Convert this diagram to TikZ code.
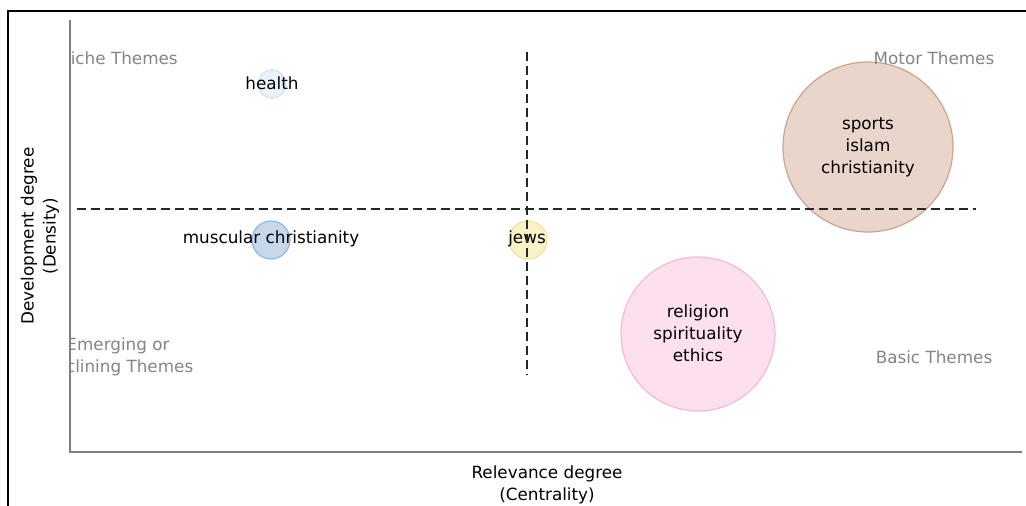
\documentclass[tikz,border=0pt]{standalone}
\usepackage{fontspec}
\setmainfont{DejaVu Sans}
\definecolor{axisgray}{HTML}{7F7F7F}
\definecolor{quadgray}{HTML}{858585}
\definecolor{hfill}{HTML}{EAF2FA}\definecolor{hedge}{HTML}{D3E3F2}
\definecolor{mfill}{HTML}{C6D9EB}\definecolor{medge}{HTML}{98B6D3}
\definecolor{jfill}{HTML}{FDF2C6}\definecolor{jedge}{HTML}{F5E2A2}
\definecolor{rfill}{HTML}{FDE0EF}\definecolor{redge}{HTML}{F3BAD7}
\definecolor{sfill}{HTML}{E9D5C9}\definecolor{sedge}{HTML}{C8A693}
\begin{document}
\begin{tikzpicture}[x=1pt,y=-1pt,
  bubble/.style={circle,inner sep=0pt,line width=1.2pt},
  txt/.style={font=\fontsize{16.8}{22}\selectfont,align=center,inner sep=0pt,text=black},
  quad/.style={font=\fontsize{16.8}{22}\selectfont,align=center,inner sep=0pt,text=quadgray},
  divider/.style={line width=1.8pt,dash pattern=on 9pt off 5pt,black!85},
  axis/.style={line width=2pt,axisgray}]
\useasboundingbox (0,0) rectangle (1026,506);
\fill[white] (0,0) rectangle (1026,506);
% outer frame
\draw[line width=2pt,black] (1027,11) -- (8,11) -- (8,507);
% axes
\coordinate (ytop) at (70,20);
\coordinate (orig) at (70,452);
\coordinate (xend) at (1022,452);
\draw[axis] (ytop) -- (orig) -- (xend);
% bubbles
\node[bubble,fill=hfill,draw=hedge,minimum size=28pt] (bh) at (272,84) {};
\node[bubble,fill=mfill,draw=medge,minimum size=38pt] (bm) at (271,240) {};
\node[bubble,fill=jfill,draw=jedge,minimum size=38pt] (bj) at (528,240) {};
\node[bubble,fill=rfill,draw=redge,minimum size=154pt] (br) at (698,334) {};
\node[bubble,fill=sfill,draw=sedge,minimum size=170pt] (bs) at (868,147) {};
% bubble labels
\node[txt] (th) at (272,83) {health};
\node[txt] (tm) at (271,239) {muscular christianity};
\node[txt] (tj) at (527,239) {jews};
\node[txt] (tr) at (698,333) {religion\\spirituality\\ethics};
\node[txt] (ts) at (868,147) {sports\\islam\\christianity};
% quadrant labels
\begin{scope}
\clip (71,0) rectangle (1026,506);
\node[quad] (qn) at (118,58) {Niche Themes};
\node[quad] (qe) at (118,357) {Emerging or\\Declining Themes};
\end{scope}
\node[quad] (qm) at (934,58) {Motor Themes};
\node[quad] (qb) at (934,357) {Basic Themes};
% dividers
\coordinate (hl) at (77,209);
\coordinate (hr) at (976,209);
\coordinate (vt) at (527,52);
\coordinate (vb) at (527,375);
\draw[divider] (hl) -- (hr);
\draw[divider] (vt) -- (vb);
% axis titles
\node[txt,rotate=90] (ylab) at (40,236) {Development degree\\(Density)};
\node[txt] (xlab) at (547,485) {Relevance degree\\(Centrality)};
\end{tikzpicture}
\end{document}
